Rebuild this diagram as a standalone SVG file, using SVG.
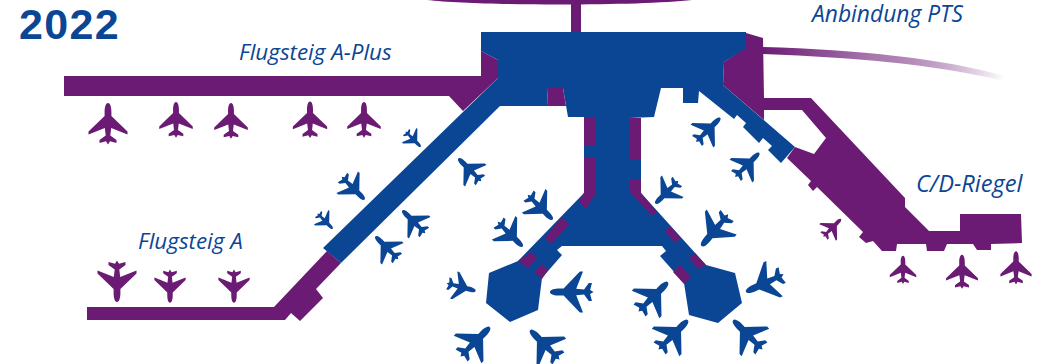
<svg xmlns="http://www.w3.org/2000/svg" width="1041" height="364" viewBox="0 0 1041 364">
<style>
.p{fill:#6b1b74}
.b{fill:#0b4695}
.l{font-family:"Open Sans","Noto Sans",sans-serif;font-style:italic;font-size:22.4px;fill:#0b4695}
.y{font-family:"Liberation Sans",Arial,sans-serif;font-weight:700;font-size:43px;letter-spacing:1.300px;fill:#0b4695}
</style>
<defs>
<linearGradient id="fade" gradientUnits="userSpaceOnUse" x1="763" y1="50" x2="1005" y2="78">
<stop offset="0" stop-color="#6b1b74"/><stop offset="0.45" stop-color="#a878ad"/><stop offset="1" stop-color="#6b1b74" stop-opacity="0"/>
</linearGradient>
<path id="plane" d="M0,-21C2.500,-21 3.400,-16 3.400,-12L3.400,-8L19.500,7.500L19.500,10.500L3.200,4L2.300,11.500L8.500,16L8.500,19L2,17.300L0,20.500L-2,17.300L-8.500,19L-8.500,16L-2.300,11.500L-3.200,4L-19.500,10.500L-19.500,7.500L-3.400,-8L-3.400,-12C-3.400,-16 -2.500,-21 0,-21Z"/>
</defs>
<rect width="1041" height="364" fill="#fff"/>
<g id="connectors">
<path class="p" d="M427,0C480,6 640,6 692,0Z"/>
<rect class="p" x="571" y="0" width="10" height="33"/>
<path fill="url(#fade)" d="M763,47C860,50 940,58 1005,76L1000,80C930,64 860,58 763,54Z"/>
</g>
<g id="pier-a-plus"><path class="p" d="M64,76H481V51L498,60V78L463,111L449,96H64Z"/></g>
<g id="pier-a"><path class="p" d="M87,307H274L327,251L341,263L316,289L323,298L300,321L291,313L285,320H87Z"/></g>
<g id="cd-riegel"><path class="p" d="M746,33L763,38L764,98H811L905,198V207L929,231H960V214H1021L1022,243L991,244V250H977L973,244H947L944,251H927L926,244H897L896,251H882L873,241L866,243L859,237L863,232L817,187L813,191L808,185L811,181L787,158L795,147L814,154L826,138L802,110H764V120L723,85L724,62L746,47Z"/></g>
<g id="terminal">
<path class="b" d="M481,32H746V48L724,62L723,85L795,147L781,163L768,150L772,146L763,138L759,143L743,127L746,123L737,115L734,119L699,91L698,103H683V88H661L654,117L629,118H641V193L706,265L735,273L742,303L718,323L689,315L684,283L660,256L666,251L662,246H562L557,250L562,255L542,278L538,310L510,322L486,303L489,273L518,261L584,193V117L568,117L563,88H548L547,106H500L341,263L323,248L498,78V60L481,51Z"/>
<path class="p" d="M548,88H563L566,106H547Z"/>
<path class="p" d="M584,118H596V145H584Z"/>
<path class="p" d="M629,118H641V159H629Z"/>
<path class="p" d="M584,157H596V193L586,209L579,202L584,193Z"/>
<path class="p" d="M630,180H641V193L657,212L652,216L630,192Z"/>
<path class="p" d="M562,217L569,225L551,244L545,238Z"/>
<path class="p" d="M518,261L531,252L537,258L528,268Z"/>
<path class="p" d="M542,264L548,270L542,279L534,272Z"/>
<path class="p" d="M670,226L681,238L675,243L665,231Z"/>
<path class="p" d="M695,253L706,265L698,269L689,258Z"/>
<path class="p" d="M680,265L691,277L684,284L673,272Z"/>
</g>
<g id="planes-purple" class="p">
<use href="#plane" transform="translate(108,124) scale(1)"/>
<use href="#plane" transform="translate(176,120) scale(.86)"/>
<use href="#plane" transform="translate(231,121) scale(.86)"/>
<use href="#plane" transform="translate(310,120) scale(.88)"/>
<use href="#plane" transform="translate(364,120) scale(.86)"/>
<use href="#plane" transform="translate(117,281) rotate(180) scale(1)"/>
<use href="#plane" transform="translate(170,286) rotate(180) scale(.8)"/>
<use href="#plane" transform="translate(234,286) rotate(180) scale(.8)"/>
<use href="#plane" transform="translate(832,228) rotate(45) scale(.6)"/>
<use href="#plane" transform="translate(903,270) scale(.68)"/>
<use href="#plane" transform="translate(962,272) scale(.82)"/>
<use href="#plane" transform="translate(1016,268) scale(.8)"/>
</g>
<g id="planes-blue" class="b">
<use href="#plane" transform="translate(413,139) rotate(135) scale(.52)"/>
<use href="#plane" transform="translate(470,170) rotate(-45) scale(.78)"/>
<use href="#plane" transform="translate(353,188) rotate(135) scale(.78)"/>
<use href="#plane" transform="translate(325,221) rotate(135) scale(.52)"/>
<use href="#plane" transform="translate(414,222) rotate(-45) scale(.78)"/>
<use href="#plane" transform="translate(387,248) rotate(-45) scale(.78)"/>
<use href="#plane" transform="translate(540,207) rotate(135) scale(.85)"/>
<use href="#plane" transform="translate(510,234) rotate(135) scale(.85)"/>
<use href="#plane" transform="translate(461,287) rotate(105) scale(.72)"/>
<use href="#plane" transform="translate(572,292) rotate(-90) scale(1.05)"/>
<use href="#plane" transform="translate(475,342) rotate(45) scale(1)"/>
<use href="#plane" transform="translate(545,345) rotate(-45) scale(1)"/>
<use href="#plane" transform="translate(653,297) rotate(45) scale(1)"/>
<use href="#plane" transform="translate(673,335) rotate(45) scale(1)"/>
<use href="#plane" transform="translate(748,335) rotate(-45) scale(1)"/>
<use href="#plane" transform="translate(765,283) rotate(-115) scale(1)"/>
<use href="#plane" transform="translate(715,230) rotate(-140) scale(1)"/>
<use href="#plane" transform="translate(667,192) rotate(-135) scale(.78)"/>
<use href="#plane" transform="translate(708,130) rotate(45) scale(.82)"/>
<use href="#plane" transform="translate(747,165) rotate(45) scale(.82)"/>
</g>
<g id="labels">
<text class="y" x="19" y="39">2022</text>
<text class="l" x="239" y="60">Flugsteig A-Plus</text>
<text class="l" x="812" y="22" style="font-size:22.800px">Anbindung PTS</text>
<text class="l" x="916" y="192" style="font-size:23.600px">C/D-Riegel</text>
<text class="l" x="138" y="249">Flugsteig A</text>
</g>
</svg>
